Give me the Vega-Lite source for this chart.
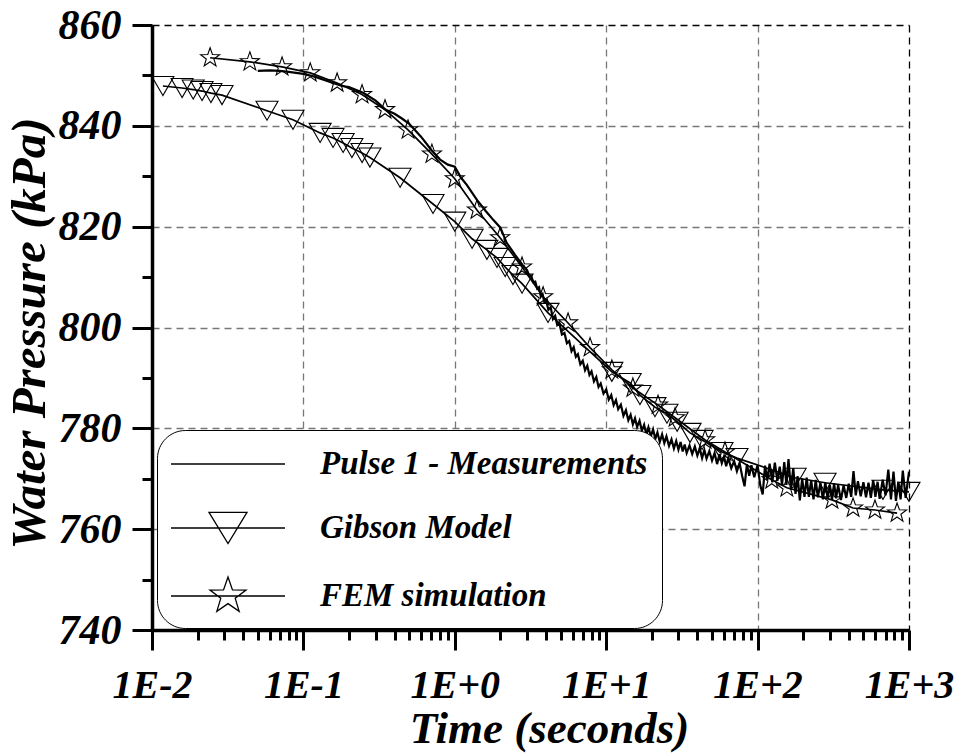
{
  "$schema": "https://vega.github.io/schema/vega-lite/v6.json",
  "width": 757,
  "height": 605,
  "autosize": {"type": "none"},
  "padding": {"left": 152, "top": 25, "right": 49, "bottom": 124},
  "background": "white",
  "config": {"view": {"stroke": null}, "font": "Liberation Serif"},
  "data": {"values": [
    {"series":"Pulse 1 - Measurements","time":0.05,"pressure":850.9},
    {"series":"Pulse 1 - Measurements","time":0.06,"pressure":851.0},
    {"series":"Pulse 1 - Measurements","time":0.07,"pressure":850.9},
    {"series":"Pulse 1 - Measurements","time":0.08,"pressure":850.7},
    {"series":"Pulse 1 - Measurements","time":0.1,"pressure":850.3},
    {"series":"Pulse 1 - Measurements","time":0.12,"pressure":849.7},
    {"series":"Pulse 1 - Measurements","time":0.15,"pressure":848.7},
    {"series":"Pulse 1 - Measurements","time":0.18,"pressure":847.9},
    {"series":"Pulse 1 - Measurements","time":0.2,"pressure":847.7},
    {"series":"Pulse 1 - Measurements","time":0.25,"pressure":846.5},
    {"series":"Pulse 1 - Measurements","time":0.3,"pressure":845.0},
    {"series":"Pulse 1 - Measurements","time":0.35,"pressure":843.2},
    {"series":"Pulse 1 - Measurements","time":0.4,"pressure":842.4},
    {"series":"Pulse 1 - Measurements","time":0.45,"pressure":841.4},
    {"series":"Pulse 1 - Measurements","time":0.5,"pressure":840.4},
    {"series":"Pulse 1 - Measurements","time":0.6,"pressure":837.8},
    {"series":"Pulse 1 - Measurements","time":0.7,"pressure":835.2},
    {"series":"Pulse 1 - Measurements","time":0.8,"pressure":833.3},
    {"series":"Pulse 1 - Measurements","time":0.9,"pressure":832.3},
    {"series":"Pulse 1 - Measurements","time":1.0,"pressure":831.9},
    {"series":"Pulse 1 - Measurements","time":1.1,"pressure":829.7},
    {"series":"Pulse 1 - Measurements","time":1.2,"pressure":828.3},
    {"series":"Pulse 1 - Measurements","time":1.4,"pressure":825.3},
    {"series":"Pulse 1 - Measurements","time":1.6,"pressure":823.1},
    {"series":"Pulse 1 - Measurements","time":1.8,"pressure":821.3},
    {"series":"Pulse 1 - Measurements","time":2.0,"pressure":819.8},
    {"series":"Pulse 1 - Measurements","time":2.2,"pressure":816.8},
    {"series":"Pulse 1 - Measurements","time":2.5,"pressure":814.4},
    {"series":"Pulse 1 - Measurements","time":2.8,"pressure":812.4},
    {"series":"Pulse 1 - Measurements","time":3.0,"pressure":811.4},
    {"series":"Pulse 1 - Measurements","time":3.1,"pressure":810.3},
    {"series":"Pulse 1 - Measurements","time":3.2,"pressure":810.2},
    {"series":"Pulse 1 - Measurements","time":3.3,"pressure":809.0},
    {"series":"Pulse 1 - Measurements","time":3.4,"pressure":809.1},
    {"series":"Pulse 1 - Measurements","time":3.5,"pressure":807.7},
    {"series":"Pulse 1 - Measurements","time":3.6,"pressure":808.0},
    {"series":"Pulse 1 - Measurements","time":3.7,"pressure":806.1},
    {"series":"Pulse 1 - Measurements","time":3.8,"pressure":806.6},
    {"series":"Pulse 1 - Measurements","time":3.9,"pressure":805.1},
    {"series":"Pulse 1 - Measurements","time":4.0,"pressure":805.5},
    {"series":"Pulse 1 - Measurements","time":4.15,"pressure":803.5},
    {"series":"Pulse 1 - Measurements","time":4.3,"pressure":804.0},
    {"series":"Pulse 1 - Measurements","time":4.45,"pressure":801.7},
    {"series":"Pulse 1 - Measurements","time":4.6,"pressure":802.3},
    {"series":"Pulse 1 - Measurements","time":4.75,"pressure":800.5},
    {"series":"Pulse 1 - Measurements","time":4.9,"pressure":800.9},
    {"series":"Pulse 1 - Measurements","time":5.1,"pressure":798.6},
    {"series":"Pulse 1 - Measurements","time":5.3,"pressure":798.9},
    {"series":"Pulse 1 - Measurements","time":5.5,"pressure":796.9},
    {"series":"Pulse 1 - Measurements","time":5.7,"pressure":797.3},
    {"series":"Pulse 1 - Measurements","time":5.9,"pressure":795.3},
    {"series":"Pulse 1 - Measurements","time":6.1,"pressure":796.1},
    {"series":"Pulse 1 - Measurements","time":6.3,"pressure":794.2},
    {"series":"Pulse 1 - Measurements","time":6.5,"pressure":794.7},
    {"series":"Pulse 1 - Measurements","time":6.75,"pressure":792.7},
    {"series":"Pulse 1 - Measurements","time":7.0,"pressure":793.4},
    {"series":"Pulse 1 - Measurements","time":7.25,"pressure":791.5},
    {"series":"Pulse 1 - Measurements","time":7.5,"pressure":792.4},
    {"series":"Pulse 1 - Measurements","time":7.75,"pressure":790.6},
    {"series":"Pulse 1 - Measurements","time":8.0,"pressure":791.3},
    {"series":"Pulse 1 - Measurements","time":8.3,"pressure":789.3},
    {"series":"Pulse 1 - Measurements","time":8.6,"pressure":790.2},
    {"series":"Pulse 1 - Measurements","time":8.9,"pressure":788.2},
    {"series":"Pulse 1 - Measurements","time":9.2,"pressure":788.9},
    {"series":"Pulse 1 - Measurements","time":9.6,"pressure":786.9},
    {"series":"Pulse 1 - Measurements","time":10,"pressure":787.7},
    {"series":"Pulse 1 - Measurements","time":10.4,"pressure":785.7},
    {"series":"Pulse 1 - Measurements","time":10.8,"pressure":786.6},
    {"series":"Pulse 1 - Measurements","time":11.2,"pressure":784.6},
    {"series":"Pulse 1 - Measurements","time":11.6,"pressure":785.6},
    {"series":"Pulse 1 - Measurements","time":12,"pressure":783.8},
    {"series":"Pulse 1 - Measurements","time":12.5,"pressure":784.7},
    {"series":"Pulse 1 - Measurements","time":13,"pressure":782.5},
    {"series":"Pulse 1 - Measurements","time":13.5,"pressure":783.6},
    {"series":"Pulse 1 - Measurements","time":14,"pressure":781.6},
    {"series":"Pulse 1 - Measurements","time":14.5,"pressure":782.7},
    {"series":"Pulse 1 - Measurements","time":15,"pressure":780.8},
    {"series":"Pulse 1 - Measurements","time":15.5,"pressure":782.0},
    {"series":"Pulse 1 - Measurements","time":16,"pressure":780.3},
    {"series":"Pulse 1 - Measurements","time":16.6,"pressure":781.5},
    {"series":"Pulse 1 - Measurements","time":17.2,"pressure":779.5},
    {"series":"Pulse 1 - Measurements","time":17.8,"pressure":780.7},
    {"series":"Pulse 1 - Measurements","time":18.4,"pressure":778.8},
    {"series":"Pulse 1 - Measurements","time":19,"pressure":780.2},
    {"series":"Pulse 1 - Measurements","time":19.7,"pressure":778.4},
    {"series":"Pulse 1 - Measurements","time":20.4,"pressure":779.8},
    {"series":"Pulse 1 - Measurements","time":21.1,"pressure":777.9},
    {"series":"Pulse 1 - Measurements","time":21.8,"pressure":779.2},
    {"series":"Pulse 1 - Measurements","time":22.6,"pressure":777.3},
    {"series":"Pulse 1 - Measurements","time":23.4,"pressure":778.8},
    {"series":"Pulse 1 - Measurements","time":24.2,"pressure":777.1},
    {"series":"Pulse 1 - Measurements","time":25,"pressure":778.4},
    {"series":"Pulse 1 - Measurements","time":26,"pressure":776.5},
    {"series":"Pulse 1 - Measurements","time":27,"pressure":777.8},
    {"series":"Pulse 1 - Measurements","time":28,"pressure":776.0},
    {"series":"Pulse 1 - Measurements","time":29,"pressure":777.5},
    {"series":"Pulse 1 - Measurements","time":30,"pressure":775.8},
    {"series":"Pulse 1 - Measurements","time":31,"pressure":777.3},
    {"series":"Pulse 1 - Measurements","time":32,"pressure":775.4},
    {"series":"Pulse 1 - Measurements","time":33,"pressure":776.8},
    {"series":"Pulse 1 - Measurements","time":34,"pressure":775.1},
    {"series":"Pulse 1 - Measurements","time":35.5,"pressure":776.6},
    {"series":"Pulse 1 - Measurements","time":37,"pressure":774.9},
    {"series":"Pulse 1 - Measurements","time":38.5,"pressure":776.4},
    {"series":"Pulse 1 - Measurements","time":40,"pressure":774.6},
    {"series":"Pulse 1 - Measurements","time":41.5,"pressure":776.0},
    {"series":"Pulse 1 - Measurements","time":43,"pressure":774.1},
    {"series":"Pulse 1 - Measurements","time":44.5,"pressure":775.7},
    {"series":"Pulse 1 - Measurements","time":46,"pressure":774.0},
    {"series":"Pulse 1 - Measurements","time":48,"pressure":775.5},
    {"series":"Pulse 1 - Measurements","time":50,"pressure":773.6},
    {"series":"Pulse 1 - Measurements","time":52,"pressure":775.1},
    {"series":"Pulse 1 - Measurements","time":54,"pressure":772.9},
    {"series":"Pulse 1 - Measurements","time":56,"pressure":774.9},
    {"series":"Pulse 1 - Measurements","time":58,"pressure":773.1},
    {"series":"Pulse 1 - Measurements","time":60,"pressure":774.4},
    {"series":"Pulse 1 - Measurements","time":62,"pressure":772.5},
    {"series":"Pulse 1 - Measurements","time":64,"pressure":774.1},
    {"series":"Pulse 1 - Measurements","time":67,"pressure":772.1},
    {"series":"Pulse 1 - Measurements","time":70,"pressure":773.5},
    {"series":"Pulse 1 - Measurements","time":73,"pressure":771.5},
    {"series":"Pulse 1 - Measurements","time":76,"pressure":773.1},
    {"series":"Pulse 1 - Measurements","time":79,"pressure":770.6},
    {"series":"Pulse 1 - Measurements","time":82,"pressure":768.5},
    {"series":"Pulse 1 - Measurements","time":85,"pressure":772.9},
    {"series":"Pulse 1 - Measurements","time":88,"pressure":770.6},
    {"series":"Pulse 1 - Measurements","time":91,"pressure":772.7},
    {"series":"Pulse 1 - Measurements","time":95,"pressure":770.3},
    {"series":"Pulse 1 - Measurements","time":100,"pressure":772.7},
    {"series":"Pulse 1 - Measurements","time":104,"pressure":768.8},
    {"series":"Pulse 1 - Measurements","time":108,"pressure":766.9},
    {"series":"Pulse 1 - Measurements","time":112,"pressure":772.6},
    {"series":"Pulse 1 - Measurements","time":116,"pressure":769.8},
    {"series":"Pulse 1 - Measurements","time":120,"pressure":773.0},
    {"series":"Pulse 1 - Measurements","time":125,"pressure":769.3},
    {"series":"Pulse 1 - Measurements","time":130,"pressure":773.2},
    {"series":"Pulse 1 - Measurements","time":135,"pressure":769.6},
    {"series":"Pulse 1 - Measurements","time":140,"pressure":772.4},
    {"series":"Pulse 1 - Measurements","time":145,"pressure":768.8},
    {"series":"Pulse 1 - Measurements","time":150,"pressure":773.3},
    {"series":"Pulse 1 - Measurements","time":155,"pressure":768.8},
    {"series":"Pulse 1 - Measurements","time":160,"pressure":773.9},
    {"series":"Pulse 1 - Measurements","time":166,"pressure":767.8},
    {"series":"Pulse 1 - Measurements","time":172,"pressure":772.1},
    {"series":"Pulse 1 - Measurements","time":178,"pressure":767.0},
    {"series":"Pulse 1 - Measurements","time":184,"pressure":770.5},
    {"series":"Pulse 1 - Measurements","time":190,"pressure":765.7},
    {"series":"Pulse 1 - Measurements","time":197,"pressure":770.0},
    {"series":"Pulse 1 - Measurements","time":204,"pressure":766.4},
    {"series":"Pulse 1 - Measurements","time":211,"pressure":770.2},
    {"series":"Pulse 1 - Measurements","time":218,"pressure":766.4},
    {"series":"Pulse 1 - Measurements","time":226,"pressure":769.7},
    {"series":"Pulse 1 - Measurements","time":234,"pressure":765.9},
    {"series":"Pulse 1 - Measurements","time":242,"pressure":769.8},
    {"series":"Pulse 1 - Measurements","time":250,"pressure":766.3},
    {"series":"Pulse 1 - Measurements","time":260,"pressure":769.2},
    {"series":"Pulse 1 - Measurements","time":270,"pressure":765.9},
    {"series":"Pulse 1 - Measurements","time":280,"pressure":769.3},
    {"series":"Pulse 1 - Measurements","time":290,"pressure":766.1},
    {"series":"Pulse 1 - Measurements","time":300,"pressure":768.8},
    {"series":"Pulse 1 - Measurements","time":310,"pressure":765.8},
    {"series":"Pulse 1 - Measurements","time":320,"pressure":769.1},
    {"series":"Pulse 1 - Measurements","time":330,"pressure":766.1},
    {"series":"Pulse 1 - Measurements","time":340,"pressure":768.8},
    {"series":"Pulse 1 - Measurements","time":355,"pressure":765.8},
    {"series":"Pulse 1 - Measurements","time":370,"pressure":768.7},
    {"series":"Pulse 1 - Measurements","time":385,"pressure":766.2},
    {"series":"Pulse 1 - Measurements","time":400,"pressure":769.0},
    {"series":"Pulse 1 - Measurements","time":415,"pressure":766.4},
    {"series":"Pulse 1 - Measurements","time":430,"pressure":771.5},
    {"series":"Pulse 1 - Measurements","time":445,"pressure":766.7},
    {"series":"Pulse 1 - Measurements","time":460,"pressure":769.5},
    {"series":"Pulse 1 - Measurements","time":480,"pressure":766.5},
    {"series":"Pulse 1 - Measurements","time":500,"pressure":769.3},
    {"series":"Pulse 1 - Measurements","time":520,"pressure":766.3},
    {"series":"Pulse 1 - Measurements","time":540,"pressure":769.2},
    {"series":"Pulse 1 - Measurements","time":560,"pressure":766.2},
    {"series":"Pulse 1 - Measurements","time":580,"pressure":769.7},
    {"series":"Pulse 1 - Measurements","time":600,"pressure":766.4},
    {"series":"Pulse 1 - Measurements","time":620,"pressure":769.4},
    {"series":"Pulse 1 - Measurements","time":640,"pressure":766.0},
    {"series":"Pulse 1 - Measurements","time":670,"pressure":769.8},
    {"series":"Pulse 1 - Measurements","time":700,"pressure":766.7},
    {"series":"Pulse 1 - Measurements","time":730,"pressure":771.8},
    {"series":"Pulse 1 - Measurements","time":760,"pressure":765.9},
    {"series":"Pulse 1 - Measurements","time":790,"pressure":771.4},
    {"series":"Pulse 1 - Measurements","time":820,"pressure":765.6},
    {"series":"Pulse 1 - Measurements","time":850,"pressure":769.4},
    {"series":"Pulse 1 - Measurements","time":880,"pressure":765.9},
    {"series":"Pulse 1 - Measurements","time":910,"pressure":771.6},
    {"series":"Pulse 1 - Measurements","time":950,"pressure":766.2},
    {"series":"Pulse 1 - Measurements","time":1000,"pressure":771.4},
    {"series":"Gibson Model","time":0.0118,"pressure":847.9},
    {"series":"Gibson Model","time":0.0158,"pressure":847.5},
    {"series":"Gibson Model","time":0.0187,"pressure":847.2},
    {"series":"Gibson Model","time":0.0214,"pressure":846.9},
    {"series":"Gibson Model","time":0.0245,"pressure":846.5},
    {"series":"Gibson Model","time":0.029,"pressure":846.1},
    {"series":"Gibson Model","time":0.0575,"pressure":843.0},
    {"series":"Gibson Model","time":0.0853,"pressure":841.2},
    {"series":"Gibson Model","time":0.129,"pressure":838.6},
    {"series":"Gibson Model","time":0.157,"pressure":837.6},
    {"series":"Gibson Model","time":0.183,"pressure":836.6},
    {"series":"Gibson Model","time":0.209,"pressure":835.6},
    {"series":"Gibson Model","time":0.244,"pressure":834.6},
    {"series":"Gibson Model","time":0.275,"pressure":833.7},
    {"series":"Gibson Model","time":0.435,"pressure":829.7},
    {"series":"Gibson Model","time":0.718,"pressure":824.5},
    {"series":"Gibson Model","time":1.0,"pressure":821.0},
    {"series":"Gibson Model","time":1.3,"pressure":817.6},
    {"series":"Gibson Model","time":1.63,"pressure":815.4},
    {"series":"Gibson Model","time":1.9,"pressure":813.8},
    {"series":"Gibson Model","time":2.15,"pressure":812.0},
    {"series":"Gibson Model","time":2.42,"pressure":810.4},
    {"series":"Gibson Model","time":2.78,"pressure":808.7},
    {"series":"Gibson Model","time":4.13,"pressure":802.9},
    {"series":"Gibson Model","time":10.9,"pressure":791.2},
    {"series":"Gibson Model","time":14.4,"pressure":789.0},
    {"series":"Gibson Model","time":16.7,"pressure":786.6},
    {"series":"Gibson Model","time":21.0,"pressure":784.2},
    {"series":"Gibson Model","time":25.2,"pressure":782.9},
    {"series":"Gibson Model","time":29.4,"pressure":781.3},
    {"series":"Gibson Model","time":35.8,"pressure":779.1},
    {"series":"Gibson Model","time":43.0,"pressure":777.7},
    {"series":"Gibson Model","time":58.2,"pressure":775.3},
    {"series":"Gibson Model","time":73.1,"pressure":774.1},
    {"series":"Gibson Model","time":177,"pressure":770.2},
    {"series":"Gibson Model","time":279,"pressure":769.2},
    {"series":"Gibson Model","time":673,"pressure":767.8},
    {"series":"Gibson Model","time":1000,"pressure":767.4},
    {"series":"FEM simulation","time":0.0242,"pressure":853.5},
    {"series":"FEM simulation","time":0.0443,"pressure":852.7},
    {"series":"FEM simulation","time":0.0723,"pressure":851.7},
    {"series":"FEM simulation","time":0.111,"pressure":850.5},
    {"series":"FEM simulation","time":0.167,"pressure":848.5},
    {"series":"FEM simulation","time":0.244,"pressure":846.2},
    {"series":"FEM simulation","time":0.346,"pressure":843.2},
    {"series":"FEM simulation","time":0.491,"pressure":839.2},
    {"series":"FEM simulation","time":0.706,"pressure":834.4},
    {"series":"FEM simulation","time":1.0,"pressure":829.5},
    {"series":"FEM simulation","time":1.4,"pressure":823.3},
    {"series":"FEM simulation","time":1.99,"pressure":817.8},
    {"series":"FEM simulation","time":2.78,"pressure":812.0},
    {"series":"FEM simulation","time":3.83,"pressure":806.1},
    {"series":"FEM simulation","time":5.6,"pressure":800.9},
    {"series":"FEM simulation","time":7.82,"pressure":796.0},
    {"series":"FEM simulation","time":10.9,"pressure":791.6},
    {"series":"FEM simulation","time":15.0,"pressure":788.0},
    {"series":"FEM simulation","time":22.0,"pressure":784.6},
    {"series":"FEM simulation","time":28.5,"pressure":782.1},
    {"series":"FEM simulation","time":45.0,"pressure":777.7},
    {"series":"FEM simulation","time":60.9,"pressure":775.3},
    {"series":"FEM simulation","time":124,"pressure":769.8},
    {"series":"FEM simulation","time":156,"pressure":768.2},
    {"series":"FEM simulation","time":310,"pressure":765.8},
    {"series":"FEM simulation","time":427,"pressure":764.2},
    {"series":"FEM simulation","time":596,"pressure":763.8},
    {"series":"FEM simulation","time":834,"pressure":763.2}
  ]},
  "encoding": {
    "x": {
      "field": "time", "type": "quantitative",
      "scale": {"type": "log", "domain": [0.01, 1000], "nice": false},
      "axis": {
        "title": "Time (seconds)",
        "values": [0.01,0.02,0.03,0.04,0.05,0.06,0.07,0.08,0.09,0.1,0.2,0.3,0.4,0.5,0.6,0.7,0.8,0.9,1,2,3,4,5,6,7,8,9,10,20,30,40,50,60,70,80,90,100,200,300,400,500,600,700,800,900,1000],
        "labelExpr": "abs(log(datum.value)/LN10 - round(log(datum.value)/LN10)) < 0.001 ? ('1E' + (round(log(datum.value)/LN10) < 0 ? '-' : '+') + abs(round(log(datum.value)/LN10))) : ''",
        "labelFont": "Liberation Serif", "labelFontSize": 40, "labelFontWeight": "bold", "labelFontStyle": "italic", "labelColor": "black",
        "labelBaseline": "alphabetic", "labelPadding": 47,
        "labelFlush": false, "labelOverlap": false, "labelBound": false,
        "tickSize": 20, "tickWidth": 3, "tickColor": "black",
        "tickDash": {"condition": {"test": "abs(log(datum.value)/LN10 - round(log(datum.value)/LN10)) > 0.001", "value": [10, 100]}, "value": [1000, 0]},
        "domainColor": "black", "domainWidth": 3.5,
        "grid": true, "gridDash": [7, 5], "gridWidth": 1.3,
        "gridColor": {"condition": {"test": "datum.value > 999", "value": "black"}, "value": "#777777"},
        "gridOpacity": {"condition": {"test": "abs(log(datum.value)/LN10 - round(log(datum.value)/LN10)) > 0.001", "value": 0}, "value": 1},
        "titleFont": "Liberation Serif", "titleFontSize": 45, "titleFontWeight": "bold", "titleFontStyle": "italic", "titleColor": "black",
        "titleX": 397, "titleY": 112, "titleBaseline": "alphabetic", "titleAlign": "center"
      }
    },
    "y": {
      "field": "pressure", "type": "quantitative",
      "scale": {"domain": [740, 860], "nice": false, "zero": false},
      "axis": {
        "title": "Water Pressure (kPa)",
        "values": [740,750,760,770,780,790,800,810,820,830,840,850,860],
        "labelExpr": "datum.value % 20 === 0 ? '' + datum.value : ''",
        "labelFont": "Liberation Serif", "labelFontSize": 42, "labelFontWeight": "bold", "labelFontStyle": "italic", "labelColor": "black",
        "labelPadding": 11, "labelFlush": false, "labelOverlap": false, "labelBound": false,
        "tickSize": 20, "tickWidth": 3, "tickColor": "black",
        "tickDash": {"condition": {"test": "datum.value % 20 !== 0", "value": [10, 100]}, "value": [1000, 0]},
        "domainColor": "black", "domainWidth": 3.5,
        "grid": true, "gridDash": [7, 5], "gridWidth": 1.3,
        "gridColor": {"condition": {"test": "datum.value === 860", "value": "black"}, "value": "#777777"},
        "gridOpacity": {"condition": {"test": "datum.value % 20 !== 0 || datum.value === 740", "value": 0}, "value": 1},
        "titleFont": "Liberation Serif", "titleFontSize": 49, "titleFontWeight": "bold", "titleFontStyle": "italic", "titleColor": "black",
        "titleX": -108, "titleY": 308, "titleAngle": -90, "titleBaseline": "alphabetic", "titleAlign": "center"
      }
    }
  },
  "layer": [
    {
      "transform": [{"filter": "datum.series === 'Pulse 1 - Measurements'"}],
      "mark": {"type": "line", "color": "black", "strokeWidth": 2.2}
    },
    {
      "transform": [{"filter": "datum.series === 'Gibson Model'"}],
      "mark": {"type": "line", "color": "black", "strokeWidth": 1.7}
    },
    {
      "transform": [{"filter": "datum.series === 'Gibson Model'"}],
      "mark": {"type": "point", "shape": "triangle-down", "size": 484, "filled": false, "color": "black", "strokeWidth": 1.1, "opacity": 1}
    },
    {
      "transform": [{"filter": "datum.series === 'FEM simulation'"}],
      "mark": {"type": "line", "color": "black", "strokeWidth": 1.7}
    },
    {
      "transform": [{"filter": "datum.series === 'FEM simulation'"}],
      "mark": {"type": "point", "shape": "M0,-1L0.235,-0.324L0.951,-0.309L0.38,0.124L0.588,0.809L0,0.4L-0.588,0.809L-0.38,0.124L-0.951,-0.309L-0.235,-0.324Z", "size": 400, "filled": false, "color": "black", "strokeWidth": 1.1, "opacity": 1}
    },
    {
      "mark": {"type": "point", "filled": false, "color": "black", "opacity": 0},
      "encoding": {
        "shape": {
          "field": "series", "type": "nominal",
          "scale": {
            "domain": ["Pulse 1 - Measurements", "Gibson Model", "FEM simulation"],
            "range": ["M-3,0H3", "M-3,0H3M-1,-0.82L1,-0.82L0,0.82Z", "M-3,0H3M0,-1L0.235,-0.324L0.951,-0.309L0.38,0.124L0.588,0.809L0,0.4L-0.588,0.809L-0.38,0.124L-0.951,-0.309L-0.235,-0.324Z"]
          },
          "legend": {
            "orient": "none", "legendX": 5, "legendY": 405, "title": null,
            "symbolSize": 1444, "symbolStrokeWidth": 1.3, "symbolStrokeColor": "black", "symbolFillColor": "transparent", "symbolOpacity": 1,
            "symbolOffset": 37, "labelOffset": 72,
            "labelFont": "Liberation Serif", "labelFontSize": 33, "labelFontWeight": "bold", "labelFontStyle": "italic", "labelColor": "black", "labelLimit": 600,
            "rowPadding": 27, "padding": 14,
            "strokeColor": "black", "fillColor": "white", "cornerRadius": 28
          }
        }
      }
    }
  ]
}
